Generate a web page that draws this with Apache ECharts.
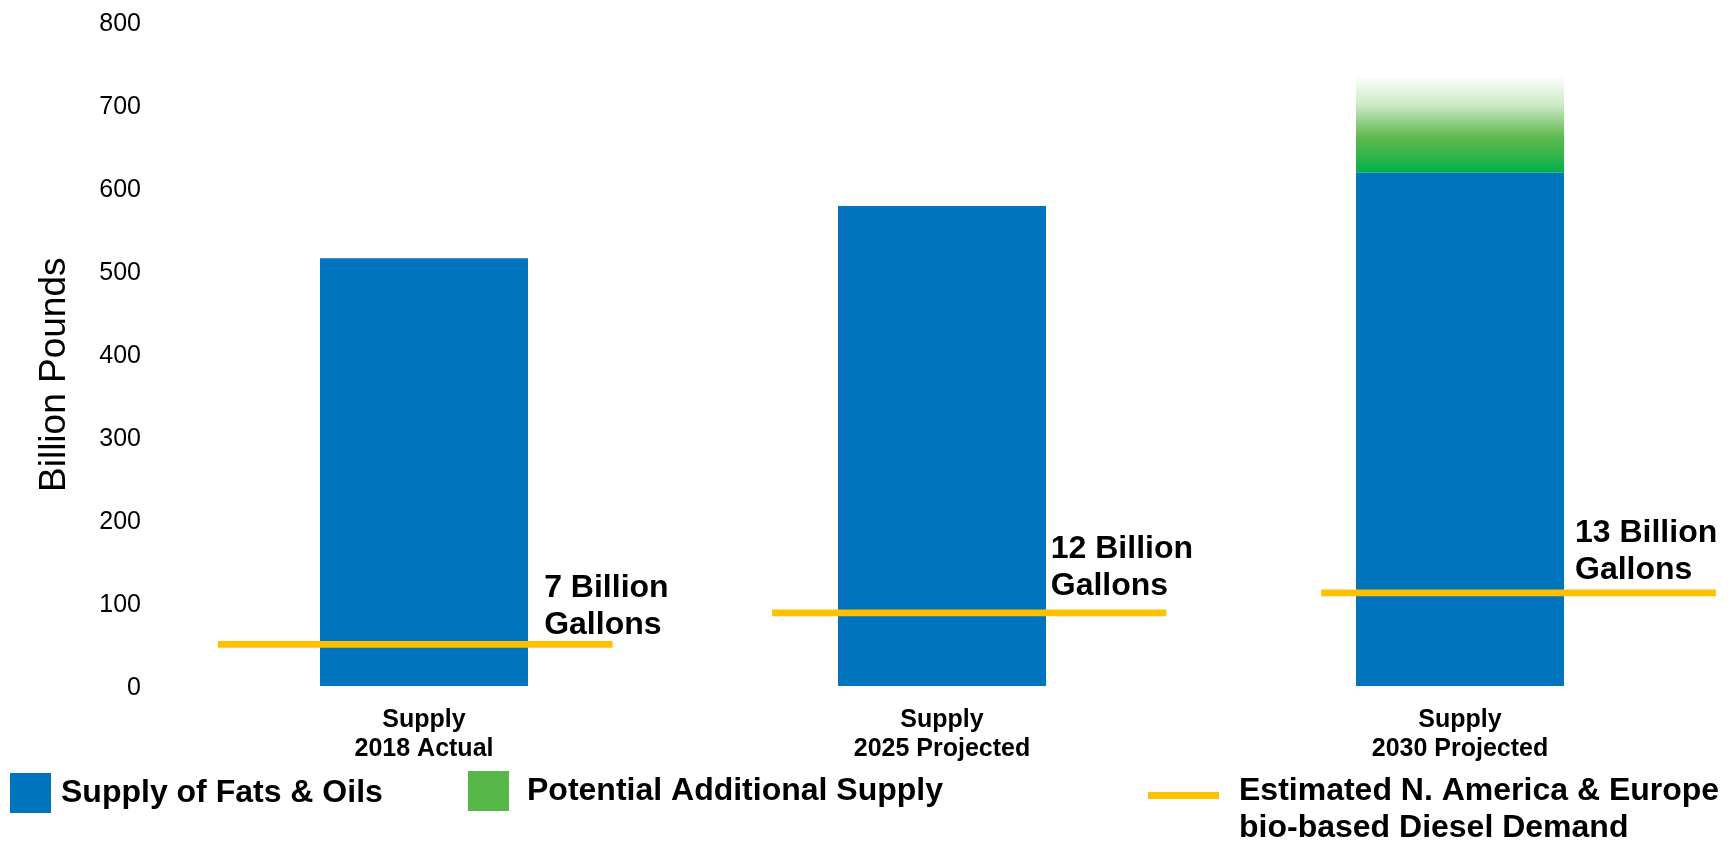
<!DOCTYPE html>
<html>
<head>
<meta charset="utf-8">
<title>Fats &amp; Oils Supply vs. Bio-based Diesel Demand</title>
<script src="https://cdn.jsdelivr.net/npm/echarts@6/dist/echarts.min.js"></script>
<style>
  html, body { margin: 0; padding: 0; background: #ffffff; }
  #chart { width: 1734px; height: 841px; }
</style>
</head>
<body>
<div id="chart"></div>
<script>
// Supply categories shown along the x axis
const categories = ['Supply\n2018 Actual', 'Supply\n2025 Projected', 'Supply\n2030 Projected'];

// Supply of fats & oils, billion pounds
const fatsOilsSupply = [515, 578, 618];

// Potential additional supply stacked on top (2030 only), billion pounds
const additionalSupply = [null, null, 117];

// Estimated N. America & Europe bio-based diesel demand
const demandPounds = [50, 88, 112];   // billion pounds (line height)
const demandGallons = [7, 12, 13];    // billion gallons (label text)

// Value axis range
const yMin = 0;
const yMax = 800;
const yStep = 100;

// Layout of each demand line relative to its category band (fractions of band width)
const demandLineSpan = [[-0.398, 0.364], [-0.328, 0.433], [-0.268, 0.494]];
const demandLabelDx = [0.232, 0.210, 0.222];
const demandLabelDy = [-38, -45, -41];

const FONT = '"Liberation Sans", Arial, Helvetica, sans-serif';
const BLUE = '#0075be';
const GOLD = '#ffc000';
const DEMAND_NAME = 'Estimated N. America & Europe bio-based Diesel Demand';

// Legend swatch for the demand line: a 71x7 bar sitting at the top of a 71x35 box,
// so the two-line caption hangs a little below the bar
const DEMAND_ICON = 'path://M0 0H71V7H0ZM0 35L0.01 35';

const legendText = {
  color: '#000',
  fontFamily: FONT,
  fontWeight: 'bold',
  fontSize: 32
};

const chart = echarts.init(document.getElementById('chart'), null, { renderer: 'canvas' });

chart.setOption({
  animation: false,
  backgroundColor: '#ffffff',
  textStyle: { fontFamily: FONT, color: '#000' },
  grid: { left: 165, right: 15, top: 21.5, bottom: 155, containLabel: false },
  xAxis: [{
    type: 'category',
    data: categories,
    axisLine: { show: false },
    axisTick: { show: false },
    axisLabel: {
      color: '#000',
      fontFamily: FONT,
      fontWeight: 'bold',
      fontSize: 25,
      lineHeight: 29,
      margin: 20,
      interval: 0
    }
  }],
  yAxis: [{
    type: 'value',
    min: yMin,
    max: yMax,
    interval: yStep,
    name: 'Billion Pounds',
    nameLocation: 'middle',
    nameRotate: 90,
    nameGap: 92,
    nameMoveOverlap: false,
    nameTextStyle: { color: '#000', fontFamily: FONT, fontSize: 37, padding: [0, 42, 0, 0] },
    axisLine: { show: false },
    axisTick: { show: false },
    splitLine: { show: false },
    axisLabel: {
      color: '#000',
      fontFamily: FONT,
      fontSize: 25,
      margin: 24,
      verticalAlign: 'top',
      lineHeight: 5
    }
  }],
  legend: [
    {
      left: 10, top: 773, padding: 0,
      itemWidth: 41, itemHeight: 40,
      data: [{ name: 'Supply of Fats & Oils', icon: 'rect', itemStyle: { color: BLUE } }],
      textStyle: Object.assign({}, legendText, { padding: [0, 0, 9, 5] })
    },
    {
      left: 468, top: 771, padding: 0,
      itemWidth: 41, itemHeight: 40,
      data: [{ name: 'Potential Additional Supply', icon: 'rect', itemStyle: { color: '#56b848' } }],
      textStyle: Object.assign({}, legendText, { padding: [0, 0, 5, 13] })
    },
    {
      left: 1148, top: 772.5, padding: 0,
      itemWidth: 71, itemHeight: 35,
      data: [{ name: DEMAND_NAME, icon: DEMAND_ICON, itemStyle: { color: GOLD, borderWidth: 0 } }],
      formatter: name => name.replace(' bio-based', '\nbio-based'),
      textStyle: Object.assign({}, legendText, { lineHeight: 37, padding: [0, 0, 0, 15] })
    }
  ],
  series: [
    {
      name: 'Supply of Fats & Oils',
      type: 'bar',
      stack: 'supply',
      barWidth: 208,
      itemStyle: { color: BLUE },
      data: fatsOilsSupply
    },
    {
      name: 'Potential Additional Supply',
      type: 'bar',
      stack: 'supply',
      barWidth: 208,
      itemStyle: {
        color: new echarts.graphic.LinearGradient(0, 0, 0, 1, [
          { offset: 0, color: '#ffffff' },
          { offset: 0.3, color: '#cdeac7' },
          { offset: 0.62, color: '#62bb52' },
          { offset: 0.8, color: '#3ab54a' },
          { offset: 1, color: '#00ae4f' }
        ])
      },
      data: additionalSupply
    },
    {
      name: DEMAND_NAME,
      type: 'custom',
      z: 5,
      clip: false,
      itemStyle: { color: GOLD },
      data: demandPounds.map((v, i) => [i, v, demandGallons[i]]),
      renderItem: function (params, api) {
        const i = params.dataIndex;
        const c = api.coord([api.value(0), api.value(1)]);
        const band = api.size([1, 0])[0];
        const span = demandLineSpan[i];
        return {
          type: 'group',
          children: [
            {
              type: 'line',
              shape: { x1: c[0] + span[0] * band, y1: c[1], x2: c[0] + span[1] * band, y2: c[1] },
              style: { stroke: GOLD, lineWidth: 6.7 }
            },
            {
              type: 'text',
              style: {
                text: api.value(2) + ' Billion\nGallons',
                x: c[0] + demandLabelDx[i] * band,
                y: c[1] + demandLabelDy[i],
                fill: '#000',
                fontFamily: FONT,
                fontWeight: 'bold',
                fontSize: 32,
                lineHeight: 37,
                align: 'left',
                verticalAlign: 'middle'
              }
            }
          ]
        };
      }
    }
  ]
});
</script>
</body>
</html>
